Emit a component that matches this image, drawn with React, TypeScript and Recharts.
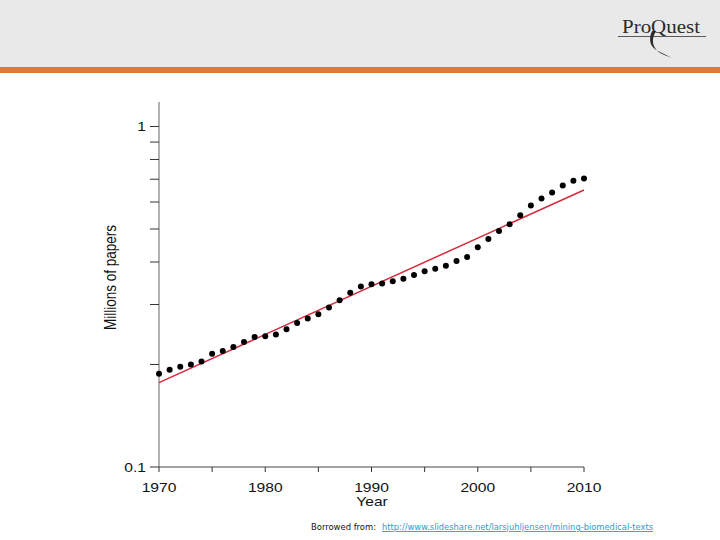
import React from 'react';
import { ComposedChart, Line, XAxis, YAxis } from 'recharts';

const years = [
  1970, 1971, 1972, 1973, 1974, 1975, 1976, 1977, 1978, 1979,
  1980, 1981, 1982, 1983, 1984, 1985, 1986, 1987, 1988, 1989,
  1990, 1991, 1992, 1993, 1994, 1995, 1996, 1997, 1998, 1999,
  2000, 2001, 2002, 2003, 2004, 2005, 2006, 2007, 2008, 2009, 2010,
];
const papers = [
  0.188, 0.193, 0.197, 0.2, 0.204, 0.215, 0.219, 0.225, 0.233, 0.241,
  0.242, 0.245, 0.254, 0.265, 0.273, 0.281, 0.294, 0.309, 0.325, 0.339,
  0.344, 0.346, 0.351, 0.357, 0.366, 0.376, 0.382, 0.39, 0.403, 0.414,
  0.442, 0.467, 0.493, 0.516, 0.549, 0.586, 0.614, 0.64, 0.671, 0.693, 0.703,
];
const trendYears = [1970, 2010];
const trendValues = [0.177, 0.651];

const xTicks = [1970, 1975, 1980, 1985, 1990, 1995, 2000, 2005, 2010];
const xLabelTicks = [1970, 1980, 1990, 2000, 2010];
const yTicks = [0.1, 0.2, 0.3, 0.4, 0.5, 0.6, 0.7, 0.8, 0.9, 1];
const yLabelTicks = ['0.1', '1'];

const data = years.map((year, i) => {
  const ti = trendYears.indexOf(year);
  return { year, papers: papers[i], trend: ti >= 0 ? trendValues[ti] : null };
});

const FONT = '"Liberation Sans", Arial, Helvetica, sans-serif';

const XTick = (props: any) => {
  const { x, y, payload } = props;
  if (!xLabelTicks.includes(payload.value)) return <g />;
  return (
    <text
      transform={`translate(${x},${y}) scale(1.2,1)`}
      textAnchor="middle"
      dy="0.71em"
      fontSize={13}
      fill="#111"
      fontFamily={FONT}
    >
      {payload.value}
    </text>
  );
};

const YTick = (props: any) => {
  const { x, y, payload } = props;
  const label = String(Math.round(payload.value * 10) / 10);
  if (!yLabelTicks.includes(label)) return <g />;
  return (
    <text
      transform={`translate(${x},${y}) scale(1.2,1)`}
      textAnchor="end"
      dy="0.35em"
      fontSize={13}
      fill="#111"
      fontFamily={FONT}
    >
      {label}
    </text>
  );
};

export default function App() {
  return (
    <div
      style={{
        position: 'absolute',
        left: 0,
        top: 0,
        width: 720,
        height: 540,
        background: '#ffffff',
        overflow: 'hidden',
        fontFamily: FONT,
      }}
    >
      <div style={{ position: 'absolute', left: 0, top: 0, width: 720, height: 67, background: '#e9e9e9' }} />
      <div style={{ position: 'absolute', left: 0, top: 67, width: 720, height: 6, background: '#e8772c' }} />

      <div style={{ position: 'absolute', left: 0, top: 0 }}>
        <ComposedChart
          width={720}
          height={540}
          data={data}
          margin={{ top: 102, right: 136, bottom: 43, left: 99 }}
        >
          <XAxis
            dataKey="year"
            type="number"
            domain={[1970, 2010]}
            ticks={xTicks}
            interval={0}
            height={30}
            tickSize={5}
            tickMargin={11}
            axisLine={{ stroke: '#444' }}
            tickLine={{ stroke: '#333' }}
            tick={<XTick />}
          />
          <YAxis
            type="number"
            scale="log"
            domain={[0.1, 1.18]}
            allowDataOverflow
            ticks={yTicks}
            interval={0}
            width={60}
            tickSize={9}
            tickMargin={4}
            axisLine={{ stroke: '#666' }}
            tickLine={{ stroke: '#333' }}
            tick={<YTick />}
          />
          <Line
            dataKey="trend"
            connectNulls
            stroke="#d42a3c"
            strokeWidth={1.5}
            dot={false}
            activeDot={false}
            isAnimationActive={false}
          />
          <Line
            dataKey="papers"
            stroke="none"
            dot={{ r: 3, fill: '#000', stroke: 'none' }}
            activeDot={false}
            isAnimationActive={false}
          />
        </ComposedChart>
      </div>

      <svg
        width={720}
        height={540}
        style={{ position: 'absolute', left: 0, top: 0, pointerEvents: 'none' }}
      >
        <text
          transform="translate(115.5,277.5) rotate(-90) scale(1,1.2)"
          textAnchor="middle"
          fontSize={13.5}
          fill="#111"
          fontFamily={FONT}
        >
          Millions of papers
        </text>
        <text
          transform="translate(372,506) scale(1.2,1)"
          textAnchor="middle"
          fontSize={13}
          fill="#111"
          fontFamily={FONT}
        >
          Year
        </text>

        <text
          x={622}
          y={33}
          fontSize={18}
          fill="#2b2b2b"
          fontFamily='"Liberation Serif", "Times New Roman", serif'
          textLength={78}
          lengthAdjust="spacingAndGlyphs"
        >
          ProQuest
        </text>
        <line x1={618} y1={36.5} x2={706} y2={36.5} stroke="#333" strokeWidth={0.8} />
        <path d="M652 31 C648 40, 650 48, 660 52 C664 54, 668 56, 672 58 C664 55, 656 52, 654 46 C652 41, 653 36, 656 31 Z" fill="#2b2b2b" />

        <text x={311} y={530} fontSize={9} fill="#111" fontFamily='"DejaVu Sans", Verdana, sans-serif' textLength={65} lengthAdjust="spacingAndGlyphs">
          Borrowed from:
        </text>
        <text x={382} y={530} fontSize={9} fill="#2f9bd3" fontFamily='"DejaVu Sans", Verdana, sans-serif' textLength={271} lengthAdjust="spacingAndGlyphs" textDecoration="underline">
          http://www.slideshare.net/larsjuhljensen/mining-biomedical-texts
        </text>
      </svg>
    </div>
  );
}
